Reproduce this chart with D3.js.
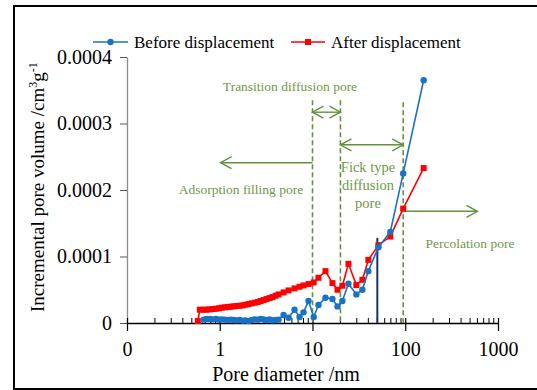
<!DOCTYPE html>
<html>
<head>
<meta charset="utf-8">
<script src="https://cdn.jsdelivr.net/npm/d3@7"></script>
<style>
  html, body { margin: 0; padding: 0; background: #fff; }
  svg, svg text { font-family: "Liberation Serif", "Times New Roman", Times, "DejaVu Serif", serif; }
</style>
</head>
<body>
<svg id="chart" width="537" height="390"></svg>
<script>
// Pore diameters (nm) shared by both series
const diameters = [0.58, 0.61, 0.67, 0.72, 0.78, 0.84, 0.91, 0.98, 1.05, 1.13, 1.22, 1.31, 1.41, 1.52,
  1.64, 1.77, 1.90, 2.05, 2.21, 2.38, 2.56, 2.76, 2.97, 3.20, 3.45, 3.71, 4.00, 4.31, 4.88, 5.52,
  6.4, 7.25, 8.0, 9.06, 10.3, 11.6, 13.8, 16.4, 18.6, 21.0, 24.4, 29.7, 34.5, 40, 51.3, 69, 95, 158];

// Incremental pore volume (cm3/g) before displacement
const beforeValues = [null, null, 0.5e-5, 0.6e-5, 0.6e-5, 0.55e-5, 0.6e-5, 0.5e-5, 0.55e-5, 0.5e-5,
  0.45e-5, 0.5e-5, 0.45e-5, 0.4e-5, 0.45e-5, 0.35e-5, 0.4e-5, 0.3e-5, 0.45e-5, 0.55e-5, 0.5e-5,
  0.6e-5, 0.55e-5, 0.45e-5, 0.55e-5, 0.4e-5, 0.45e-5, 0.5e-5, 1.2e-5, 0.8e-5, 2.0e-5, 0.9e-5,
  1.6e-5, 3.3e-5, 0.9e-5, 2.7e-5, 3.8e-5, 3.6e-5, 2.5e-5, 3.3e-5, 5.9e-5, 4.3e-5, 5.0e-5, 7.8e-5,
  11.4e-5, 13.7e-5, 22.5e-5, 36.5e-5];

// Incremental pore volume (cm3/g) after displacement
const afterValues = [0.3e-5, 2.0e-5, 2.0e-5, 2.0e-5, 2.05e-5, 2.1e-5, 2.15e-5, 2.2e-5, 2.3e-5, 2.35e-5,
  2.4e-5, 2.45e-5, 2.5e-5, 2.55e-5, 2.6e-5, 2.65e-5, 2.75e-5, 2.85e-5, 2.95e-5, 3.05e-5, 3.15e-5,
  3.3e-5, 3.45e-5, 3.6e-5, 3.75e-5, 3.9e-5, 4.1e-5, 4.3e-5, 4.6e-5, 4.9e-5, 5.2e-5, 5.45e-5,
  5.65e-5, 5.85e-5, 6.1e-5, 6.8e-5, 7.8e-5, 6.0e-5, 5.0e-5, 5.6e-5, 8.9e-5, 5.7e-5, 6.5e-5, 9.5e-5,
  11.7e-5, 13.0e-5, 17.2e-5, 23.3e-5];

const xTicks = [0.1, 1, 10, 100, 1000];
const xTickLabels = ["0", "1", "10", "100", "1000"];
const yTicks = [0, 0.0001, 0.0002, 0.0003, 0.0004];
const yTickLabels = ["0", "0.0001", "0.0002", "0.0003", "0.0004"];

const seriesNames = ["Before displacement", "After displacement"];

// Pore-class boundaries (nm) and marker line at 50 nm
const boundaries = [10, 20, 95];
const markerDiameter = 50;
const markerValue = 1.28e-4;

const FONT = '"Liberation Serif", "Times New Roman", Times, "DejaVu Serif", serif';

const svg = d3.select("#chart").attr("font-family", FONT);
const x = d3.scaleLog().domain([0.1, 1000]).range([127, 498]);
const y = d3.scaleLinear().domain([0, 0.0004]).range([323, 57]);

const blue = "#1a72c4";
const red = "#ff0000";
const green = "#62923e";
const greenText = "#6f9847";

// outer frame
svg.append("rect").attr("x", 14).attr("y", 6).attr("width", 540).attr("height", 383)
  .attr("fill", "none").attr("stroke", "#000").attr("stroke-width", 2);

// y axis
const yAxis = svg.append("g").attr("transform", `translate(${x(0.1)},0)`)
  .call(d3.axisLeft(y).tickValues(yTicks).tickSize(7).tickSizeOuter(0).tickPadding(8)
    .tickFormat((d, i) => yTickLabels[i]));
yAxis.attr("font-family", FONT);
yAxis.select(".domain").attr("stroke", "#8c8c8c").attr("stroke-width", 1.3);
yAxis.selectAll(".tick line").attr("stroke", "#555");
yAxis.selectAll("text").attr("font-size", 20).attr("fill", "#000");

// x axis minor ticks (pointing up)
const minor = [];
for (let e = -1; e < 3; e++) for (let k = 2; k <= 9; k++) minor.push(k * Math.pow(10, e));
svg.append("g").attr("transform", `translate(0,${y(0)})`)
  .selectAll("line").data(minor).join("line")
  .attr("x1", d => x(d)).attr("x2", d => x(d)).attr("y1", 0).attr("y2", -5)
  .attr("stroke", "#000").attr("stroke-width", 1);

// x axis
const xAxis = svg.append("g").attr("transform", `translate(0,${y(0)})`)
  .call(d3.axisBottom(x).tickValues(xTicks).tickSizeOuter(0).tickFormat((d, i) => xTickLabels[i]));
xAxis.attr("font-family", FONT);
xAxis.select(".domain").attr("stroke", "#000").attr("stroke-width", 1.3);
xAxis.selectAll(".tick line").attr("y1", -5).attr("y2", 8).attr("stroke", "#000").attr("stroke-width", 1.2);
xAxis.selectAll("text").attr("y", 33).attr("dy", null).attr("font-size", 20).attr("fill", "#000");

// axis titles
svg.append("text").attr("x", 286).attr("y", 381).attr("text-anchor", "middle")
  .attr("font-size", 20).text("Pore diameter /nm");
const yt = svg.append("text").attr("transform", "translate(44,312) rotate(-90)")
  .attr("font-size", 19);
yt.append("tspan").text("Incremental pore volume /cm");
yt.append("tspan").attr("font-size", 12).attr("dy", -7).text("3");
yt.append("tspan").attr("dy", 7).text("g");
yt.append("tspan").attr("font-size", 12).attr("dy", -7).text("-1");

// pore-class boundaries
svg.append("g").selectAll("line").data(boundaries).join("line")
  .attr("x1", d => x(d)).attr("x2", d => x(d))
  .attr("y1", (d, i) => i === 2 ? y(3.32e-4) : y(3.35e-4)).attr("y2", y(0))
  .attr("stroke", green).attr("stroke-width", 1.6).attr("stroke-dasharray", "5,3");

// arrows
function arrowHead(xt, yt, dir) {
  svg.append("path")
    .attr("d", `M${xt - dir * 11},${yt - 6}L${xt},${yt}L${xt - dir * 11},${yt + 6}`)
    .attr("fill", "none").attr("stroke", green).attr("stroke-width", 1.4);
}
function arrow(x1, x2, yy, both) {
  svg.append("line").attr("x1", x1).attr("x2", x2).attr("y1", yy).attr("y2", yy)
    .attr("stroke", green).attr("stroke-width", 1.4);
  arrowHead(x2, yy, Math.sign(x2 - x1));
  if (both) arrowHead(x1, yy, Math.sign(x1 - x2));
}
arrow(x(10), x(20), y(3.17e-4), true);
arrow(x(20), x(95), y(2.68e-4), true);
arrow(x(10), x(1.02), y(2.41e-4), false);
arrow(x(95), x(600), y(1.68e-4), false);

// annotation labels
const ann = svg.append("g").attr("fill", greenText).attr("text-anchor", "middle");
ann.append("text").attr("x", 290).attr("y", 91).attr("font-size", 13.5).text("Transition diffusion pore");
ann.append("text").attr("x", 241).attr("y", 194).attr("font-size", 13.5).text("Adsorption filling pore");
ann.append("text").attr("x", 470).attr("y", 248).attr("font-size", 13.5).text("Percolation pore");
["Fick type", "diffusion", "pore"].forEach((t, i) =>
  ann.append("text").attr("x", 368).attr("y", 172 + i * 18).attr("font-size", 14.5).text(t));

// marker line at 50 nm
svg.append("line").attr("x1", x(markerDiameter)).attr("x2", x(markerDiameter))
  .attr("y1", y(0)).attr("y2", y(markerValue)).attr("stroke", "#1c2f66").attr("stroke-width", 2);

// series
const line = d3.line().defined(d => d.v != null).x(d => x(d.d)).y(d => y(d.v));
const afterData = diameters.map((d, i) => ({ d, v: afterValues[i] }));
const beforeData = diameters.map((d, i) => ({ d, v: beforeValues[i] })).filter(p => p.v != null);

svg.append("path").datum(afterData).attr("d", line).attr("fill", "none").attr("stroke", red).attr("stroke-width", 1.6);
svg.append("g").selectAll("rect").data(afterData).join("rect")
  .attr("x", p => x(p.d) - 3).attr("y", p => y(p.v) - 3).attr("width", 6).attr("height", 6).attr("fill", red);

svg.append("path").datum(beforeData).attr("d", line).attr("fill", "none").attr("stroke", blue).attr("stroke-width", 1.6);
svg.append("g").selectAll("circle").data(beforeData).join("circle")
  .attr("cx", p => x(p.d)).attr("cy", p => y(p.v)).attr("r", 3.2).attr("fill", blue);

// legend
const lg = svg.append("g");
lg.append("line").attr("x1", 93).attr("x2", 128).attr("y1", 42).attr("y2", 42).attr("stroke", blue).attr("stroke-width", 1.6);
lg.append("circle").attr("cx", 110.5).attr("cy", 42).attr("r", 3.2).attr("fill", blue);
lg.append("text").attr("x", 134).attr("y", 48).attr("font-size", 17).text(seriesNames[0]);
lg.append("line").attr("x1", 291).attr("x2", 325).attr("y1", 42).attr("y2", 42).attr("stroke", red).attr("stroke-width", 1.6);
lg.append("rect").attr("x", 305).attr("y", 39).attr("width", 6).attr("height", 6).attr("fill", red);
lg.append("text").attr("x", 331).attr("y", 48).attr("font-size", 17).text(seriesNames[1]);
</script>
</body>
</html>
